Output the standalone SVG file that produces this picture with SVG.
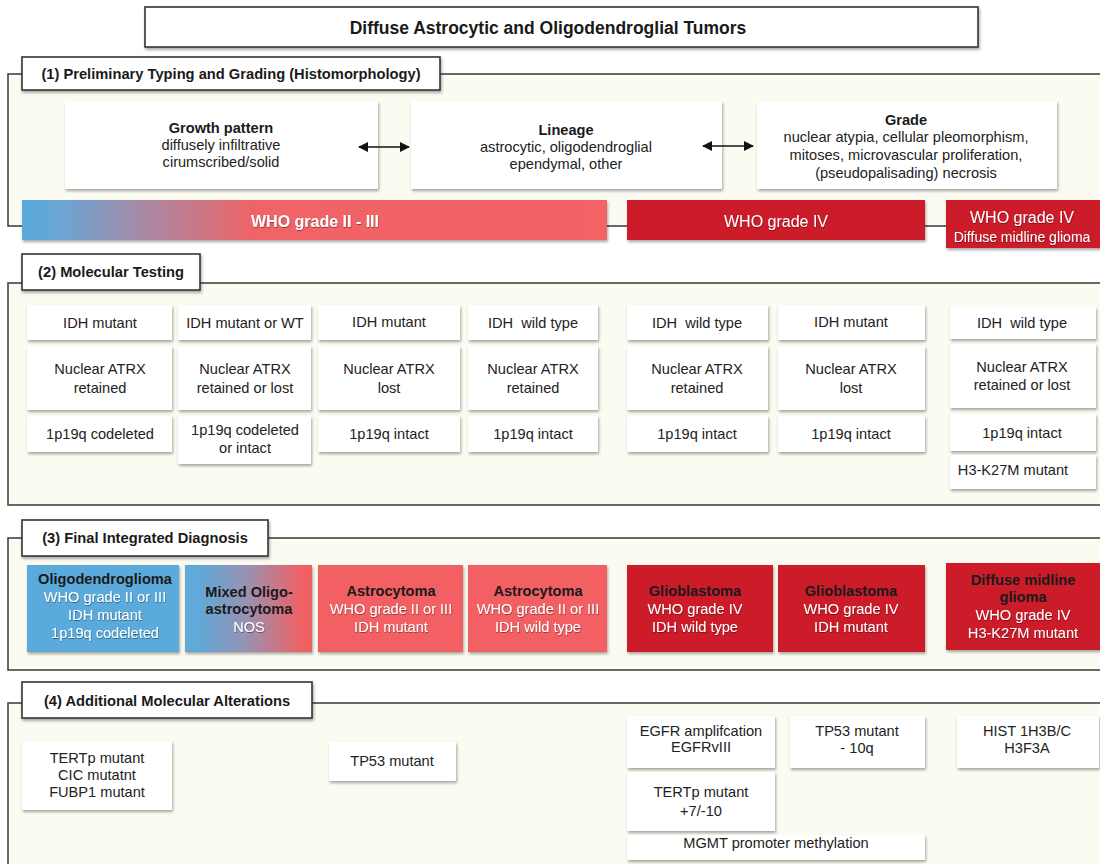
<svg xmlns="http://www.w3.org/2000/svg" width="1100" height="864" viewBox="0 0 1100 864">
<defs>
<filter id="sh" x="-10%" y="-10%" width="125%" height="135%">
<feDropShadow dx="1" dy="2" stdDeviation="1.8" flood-color="#000" flood-opacity="0.35"/>
</filter>
<filter id="tsh" x="-5%" y="-20%" width="110%" height="140%">
<feDropShadow dx="0.5" dy="1" stdDeviation="0.7" flood-color="#000" flood-opacity="0.4"/>
</filter>
<linearGradient id="g1" x1="0" y1="0" x2="1" y2="0">
<stop offset="0" stop-color="#5aaadb"/>
<stop offset="0.06" stop-color="#68a6d6"/>
<stop offset="0.2" stop-color="#a58ba8"/>
<stop offset="0.4" stop-color="#f06366"/>
<stop offset="1" stop-color="#f36265"/>
</linearGradient>
<linearGradient id="g2" x1="0" y1="0" x2="1" y2="0">
<stop offset="0.1" stop-color="#5eaad9"/>
<stop offset="0.5" stop-color="#9b90b0"/>
<stop offset="0.92" stop-color="#f06163"/>
</linearGradient>
<marker id="ah" viewBox="0 0 10 10" refX="9" refY="5" markerWidth="10" markerHeight="10" markerUnits="userSpaceOnUse" orient="auto-start-reverse">
<path d="M0,0 L10,5 L0,10 Z" fill="#111"/>
</marker>
<style>
text{font-family:"Liberation Sans",Arial,Helvetica,sans-serif;text-anchor:middle;}
.frame{fill:#fbfbf1;stroke:#444;stroke-width:1.6;}
.lab{fill:#fff;stroke:#333;stroke-width:1.6;filter:url(#sh);}
.labt{font-size:14.7px;font-weight:bold;fill:#1a1a1a;}
.box{fill:#fff;filter:url(#sh);}
.t{font-size:14.6px;fill:#222;}
.tb{font-size:14.6px;font-weight:bold;fill:#1a1a1a;}
.blue{fill:#5aaadb;filter:url(#sh);}
.pink{fill:#f26164;filter:url(#sh);}
.red{fill:#cc1f2b;filter:url(#sh);}
.w{font-size:14.6px;fill:#fff;filter:url(#tsh);}
.d{font-size:14.6px;font-weight:bold;fill:#1a1a1a;}
</style>
</defs>
<rect width="1100" height="864" fill="#fff"/>

<g id="title">
<rect x="145" y="7" width="833" height="40" fill="#fff" stroke="#333" stroke-width="1.6" filter="url(#sh)"/>
<text x="548" y="34" style="font-size:17.5px;font-weight:bold;fill:#1a1a1a">Diffuse Astrocytic and Oligodendroglial Tumors</text>
</g>

<g id="section1">
<rect class="frame" x="8" y="74" width="1100" height="152"/>
<rect class="lab" x="22" y="57" width="418" height="33"/>
<text class="labt" x="231" y="79">(1) Preliminary Typing and Grading (Histomorphology)</text>
</g>
<g id="growth">
<rect class="box" x="65" y="101" width="313" height="88"/>
<text class="tb" x="221" y="133">Growth pattern</text>
<text class="t" x="221" y="150">diffusely infiltrative</text>
<text class="t" x="221" y="167">cirumscribed/solid</text>
</g>
<g id="lineage">
<rect class="box" x="411" y="101" width="311" height="88"/>
<text class="tb" x="566" y="135">Lineage</text>
<text class="t" x="566" y="152">astrocytic, oligodendroglial</text>
<text class="t" x="566" y="169">ependymal, other</text>
</g>
<g id="grade">
<rect class="box" x="757" y="101" width="300" height="88"/>
<text class="tb" x="906" y="125">Grade</text>
<text class="t" x="906" y="142">nuclear atypia, cellular pleomorphism,</text>
<text class="t" x="906" y="160">mitoses, microvascular proliferation,</text>
<text class="t" x="906" y="178">(pseudopalisading) necrosis</text>
</g>
<g id="bar-grade-II-III">
<rect x="22" y="200" width="585" height="40" fill="url(#g1)" filter="url(#sh)"/>
<text x="315" y="227" style="font-size:16px;font-weight:bold;fill:#fff" filter="url(#tsh)">WHO grade II - III</text>
</g>
<g id="bar-grade-IV">
<rect class="red" x="627" y="200" width="298" height="40"/>
<text x="776" y="227" style="font-size:16px;fill:#fff" filter="url(#tsh)">WHO grade IV</text>
</g>
<g id="bar-grade-IV-dmg">
<rect class="red" x="946" y="200" width="160" height="48"/>
<text x="1022" y="223" style="font-size:16px;fill:#fff" filter="url(#tsh)">WHO grade IV</text>
<text x="1022" y="242" style="font-size:14px;fill:#fff" filter="url(#tsh)">Diffuse midline glioma</text>
</g>

<g id="section2">
<rect class="frame" x="8" y="283" width="1100" height="222"/>
<rect class="lab" x="22" y="254" width="178" height="36"/>
<text class="labt" x="111" y="277">(2) Molecular Testing</text>
</g>
<g id="mt-col1">
<rect class="box" x="27" y="305" width="145" height="35"/><text class="t" x="100" y="328">IDH mutant</text>
<rect class="box" x="27" y="346" width="145" height="64"/><text class="t" x="100" y="374">Nuclear ATRX</text><text class="t" x="100" y="393">retained</text>
<rect class="box" x="27" y="416" width="145" height="36"/><text class="t" x="100" y="439">1p19q codeleted</text>
</g>
<g id="mt-col2">
<rect class="box" x="178" y="305" width="133" height="35"/><text class="t" x="245" y="328">IDH mutant or WT</text>
<rect class="box" x="178" y="346" width="133" height="64"/><text class="t" x="245" y="374">Nuclear ATRX</text><text class="t" x="245" y="393">retained or lost</text>
<rect class="box" x="178" y="416" width="133" height="48"/><text class="t" x="245" y="435">1p19q codeleted</text><text class="t" x="245" y="453">or intact</text>
</g>
<g id="mt-col3">
<rect class="box" x="318" y="305" width="142" height="35"/><text class="t" x="389" y="327">IDH mutant</text>
<rect class="box" x="318" y="346" width="142" height="64"/><text class="t" x="389" y="374">Nuclear ATRX</text><text class="t" x="389" y="393">lost</text>
<rect class="box" x="318" y="416" width="142" height="36"/><text class="t" x="389" y="439">1p19q intact</text>
</g>
<g id="mt-col4">
<rect class="box" x="468" y="305" width="130" height="35"/><text class="t" x="533" y="328" xml:space="preserve">IDH  wild type</text>
<rect class="box" x="468" y="346" width="130" height="64"/><text class="t" x="533" y="374">Nuclear ATRX</text><text class="t" x="533" y="393">retained</text>
<rect class="box" x="468" y="416" width="130" height="36"/><text class="t" x="533" y="439">1p19q intact</text>
</g>
<g id="mt-col5">
<rect class="box" x="627" y="305" width="141" height="35"/><text class="t" x="697" y="328" xml:space="preserve">IDH  wild type</text>
<rect class="box" x="627" y="346" width="141" height="64"/><text class="t" x="697" y="374">Nuclear ATRX</text><text class="t" x="697" y="393">retained</text>
<rect class="box" x="627" y="416" width="141" height="36"/><text class="t" x="697" y="439">1p19q intact</text>
</g>
<g id="mt-col6">
<rect class="box" x="778" y="305" width="147" height="35"/><text class="t" x="851" y="327">IDH mutant</text>
<rect class="box" x="778" y="346" width="147" height="64"/><text class="t" x="851" y="374">Nuclear ATRX</text><text class="t" x="851" y="393">lost</text>
<rect class="box" x="778" y="416" width="147" height="36"/><text class="t" x="851" y="439">1p19q intact</text>
</g>
<g id="mt-col7">
<rect class="box" x="950" y="307" width="146" height="32"/><text class="t" x="1022" y="328" xml:space="preserve">IDH  wild type</text>
<rect class="box" x="950" y="344" width="146" height="64"/><text class="t" x="1022" y="372">Nuclear ATRX</text><text class="t" x="1022" y="390">retained or lost</text>
<rect class="box" x="950" y="414" width="146" height="37"/><text class="t" x="1022" y="438">1p19q intact</text>
<rect class="box" x="950" y="455" width="146" height="34"/><text class="t" x="1013" y="475">H3-K27M mutant</text>
</g>

<g id="section3">
<rect class="frame" x="8" y="538" width="1100" height="132"/>
<rect class="lab" x="22" y="520" width="246" height="36"/>
<text class="labt" x="145" y="543">(3) Final Integrated Diagnosis</text>
</g>
<g id="dx-oligo">
<rect class="blue" x="27" y="565" width="152" height="87"/>
<text class="d" x="105" y="584">Oligodendroglioma</text>
<text class="w" x="105" y="602">WHO grade II or III</text>
<text class="w" x="105" y="620">IDH mutant</text>
<text class="w" x="105" y="638">1p19q codeleted</text>
</g>
<g id="dx-mixed">
<rect x="185" y="565" width="127" height="87" fill="url(#g2)" filter="url(#sh)"/>
<text class="d" x="249" y="597">Mixed Oligo-</text>
<text class="d" x="249" y="614">astrocytoma</text>
<text class="w" x="249" y="632">NOS</text>
</g>
<g id="dx-astro1">
<rect class="pink" x="318" y="565" width="145" height="87"/>
<text class="d" x="391" y="596">Astrocytoma</text>
<text class="w" x="391" y="614">WHO grade II or III</text>
<text class="w" x="391" y="632">IDH mutant</text>
</g>
<g id="dx-astro2">
<rect class="pink" x="468" y="565" width="139" height="87"/>
<text class="d" x="538" y="596">Astrocytoma</text>
<text class="w" x="538" y="614">WHO grade II or III</text>
<text class="w" x="538" y="632">IDH wild type</text>
</g>
<g id="dx-gbm1">
<rect class="red" x="627" y="565" width="146" height="87"/>
<text class="d" x="695" y="596">Glioblastoma</text>
<text class="w" x="695" y="614">WHO grade IV</text>
<text class="w" x="695" y="632">IDH wild type</text>
</g>
<g id="dx-gbm2">
<rect class="red" x="778" y="565" width="147" height="87"/>
<text class="d" x="851" y="596">Glioblastoma</text>
<text class="w" x="851" y="614">WHO grade IV</text>
<text class="w" x="851" y="632">IDH mutant</text>
</g>
<g id="dx-dmg">
<rect class="red" x="946" y="563" width="160" height="87"/>
<text class="d" x="1023" y="585">Diffuse midline</text>
<text class="d" x="1023" y="602">glioma</text>
<text class="w" x="1023" y="620">WHO grade IV</text>
<text class="w" x="1023" y="638">H3-K27M mutant</text>
</g>

<g id="section4">
<rect class="frame" x="8" y="703" width="1100" height="180"/>
<rect class="lab" x="22" y="682" width="290" height="36"/>
<text class="labt" x="167" y="706">(4) Additional Molecular Alterations</text>
</g>
<g id="am-oligo">
<rect class="box" x="22" y="741" width="150" height="69"/>
<text class="t" x="97" y="763">TERTp mutant</text>
<text class="t" x="97" y="780">CIC mutatnt</text>
<text class="t" x="97" y="797">FUBP1 mutant</text>
</g>
<g id="am-astro">
<rect class="box" x="329" y="742" width="127" height="39"/>
<text class="t" x="392" y="766">TP53 mutant</text>
</g>
<g id="am-egfr">
<rect class="box" x="627" y="716" width="148" height="52"/>
<text class="t" x="701" y="736">EGFR amplifcation</text>
<text class="t" x="701" y="752">EGFRvIII</text>
</g>
<g id="am-tp53">
<rect class="box" x="790" y="716" width="135" height="52"/>
<text class="t" x="857" y="736">TP53 mutant</text>
<text class="t" x="857" y="753">- 10q</text>
</g>
<g id="am-hist">
<rect class="box" x="957" y="716" width="142" height="52"/>
<text class="t" x="1027" y="736">HIST 1H3B/C</text>
<text class="t" x="1027" y="753">H3F3A</text>
</g>
<g id="am-tert">
<rect class="box" x="627" y="772" width="148" height="59"/>
<text class="t" x="701" y="797">TERTp mutant</text>
<text class="t" x="701" y="816">+7/-10</text>
</g>
<g id="am-mgmt">
<rect class="box" x="627" y="835" width="298" height="25"/>
<text class="t" x="776" y="848">MGMT promoter methylation</text>
</g>

<g id="connectors">
<line x1="359" y1="147" x2="409" y2="147" stroke="#111" stroke-width="1.6" marker-start="url(#ah)" marker-end="url(#ah)"/>
<line x1="703" y1="146" x2="753" y2="146" stroke="#111" stroke-width="1.6" marker-start="url(#ah)" marker-end="url(#ah)"/>
</g>
</svg>
